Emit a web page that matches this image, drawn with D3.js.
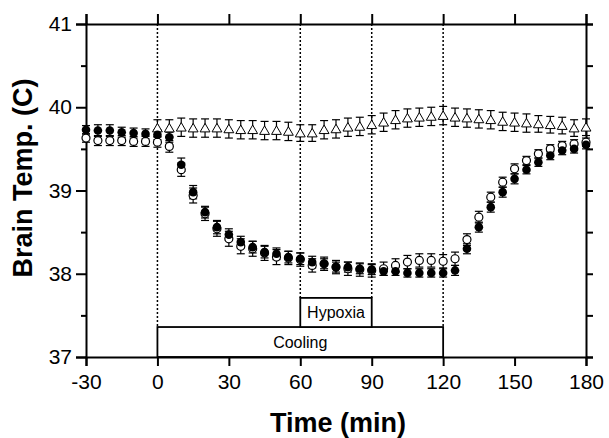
<!DOCTYPE html>
<html>
<head>
<meta charset="utf-8">
<script src="https://cdn.jsdelivr.net/npm/d3@7"></script>
<style>
  body { margin: 0; background: #fff; }
  text { font-family: "Liberation Sans", Arial, sans-serif; fill: #000; }
</style>
</head>
<body>
<div class="chart"></div>
<script>
// time points (min)
var times = [-30, -25, -20, -15, -10, -5, 0, 5, 10, 15, 20, 25, 30, 35, 40, 45, 50, 55, 60, 65, 70,
  75, 80, 85, 90, 95, 100, 105, 110, 115, 120, 125, 130, 135, 140, 145, 150, 155, 160, 165, 170, 175, 180];
var triTimes = [0, 5, 10, 15, 20, 25, 30, 35, 40, 45, 50, 55, 60, 65, 70, 75, 80, 85, 90,
  95, 100, 105, 110, 115, 120, 125, 130, 135, 140, 145, 150, 155, 160, 165, 170, 175, 180];

// filled circles
var filledMean = [39.73, 39.72, 39.72, 39.70, 39.69, 39.68, 39.67, 39.64, 39.31, 38.98, 38.74, 38.56, 38.47,
  38.38, 38.32, 38.26, 38.24, 38.20, 38.18, 38.14, 38.12, 38.08, 38.08, 38.06, 38.05, 38.03, 38.03, 38.01,
  38.01, 38.01, 38.01, 38.04, 38.30, 38.56, 38.80, 38.98, 39.14, 39.25, 39.34, 39.42, 39.48, 39.50, 39.55];
var filledSE = [0.05, 0.07, 0.07, 0.06, 0.06, 0.06, 0.06, 0.06, 0.08, 0.08, 0.07, 0.08, 0.07, 0.07, 0.07,
  0.07, 0.07, 0.07, 0.07, 0.07, 0.06, 0.06, 0.06, 0.06, 0.06, 0.05, 0.05, 0.05, 0.05, 0.05, 0.05, 0.06,
  0.06, 0.06, 0.06, 0.06, 0.06, 0.05, 0.05, 0.05, 0.05, 0.05, 0.05];

// open circles
var openMean = [39.63, 39.60, 39.60, 39.60, 39.59, 39.59, 39.58, 39.53, 39.25, 38.94, 38.72, 38.54, 38.42,
  38.33, 38.30, 38.25, 38.20, 38.19, 38.17, 38.10, 38.12, 38.08, 38.06, 38.05, 38.04, 38.06, 38.10, 38.14,
  38.16, 38.16, 38.15, 38.18, 38.41, 38.68, 38.92, 39.10, 39.26, 39.36, 39.44, 39.50, 39.54, 39.56, 39.58];
var openSE = [0.05, 0.06, 0.06, 0.06, 0.06, 0.06, 0.06, 0.07, 0.08, 0.09, 0.08, 0.09, 0.09, 0.09, 0.09,
  0.09, 0.09, 0.08, 0.08, 0.08, 0.08, 0.08, 0.08, 0.08, 0.08, 0.08, 0.08, 0.08, 0.08, 0.08, 0.08, 0.08,
  0.07, 0.07, 0.06, 0.06, 0.06, 0.05, 0.05, 0.05, 0.05, 0.05, 0.05];

// open triangles
var triMean = [39.75, 39.75, 39.76, 39.75, 39.75, 39.75, 39.74, 39.73, 39.73, 39.72, 39.72, 39.71, 39.69,
  39.69, 39.73, 39.74, 39.76, 39.77, 39.79, 39.82, 39.85, 39.87, 39.88, 39.89, 39.90, 39.88, 39.87, 39.86,
  39.85, 39.83, 39.82, 39.81, 39.80, 39.79, 39.78, 39.75, 39.76];
var triSE = [0.10, 0.10, 0.11, 0.11, 0.11, 0.11, 0.11, 0.11, 0.11, 0.11, 0.11, 0.11, 0.10, 0.10, 0.11,
  0.11, 0.11, 0.11, 0.11, 0.11, 0.11, 0.11, 0.11, 0.11, 0.11, 0.11, 0.11, 0.11, 0.11, 0.11, 0.11, 0.11,
  0.10, 0.10, 0.10, 0.10, 0.10];

var xTicks = [-30, 0, 30, 60, 90, 120, 150, 180];
var yTicks = [37, 38, 39, 40, 41];
var yMinor = [37.5, 38.5, 39.5, 40.5];
var guideLines = [0, 60, 90, 120];

// boxes: [start, end, top, label]
var cooling = { start: 0, end: 120, top: 37.36, label: "Cooling" };
var hypoxia = { start: 60, end: 90, top: 37.71, label: "Hypoxia" };

var svgWidth = 609;
var svgHeight = 438;
var margin = { top: 24, right: 23, bottom: 81, left: 86 };
var width = svgWidth - margin.left - margin.right;
var height = svgHeight - margin.top - margin.bottom;

var svg = d3.select(".chart")
  .append("svg")
  .attr("width", svgWidth)
  .attr("height", svgHeight);

var chartGroup = svg.append("g")
  .attr("transform", `translate(${margin.left}, ${margin.top})`);

var x = d3.scaleLinear().domain([-30, 180]).range([0, width]);
var y = d3.scaleLinear().domain([37, 41]).range([height, 0]);

// dotted guides
chartGroup.selectAll(".guide")
  .data(guideLines)
  .enter()
  .append("line")
  .attr("x1", d => x(d))
  .attr("x2", d => x(d))
  .attr("y1", 0)
  .attr("y2", d => (d == 60 || d == 90) ? y(hypoxia.top) : y(cooling.top))
  .attr("stroke", "#000")
  .attr("stroke-width", 1.5)
  .attr("stroke-dasharray", "2,2");

// boxes
[cooling, hypoxia].forEach(function(b) {
  var bottom = b === hypoxia ? y(cooling.top) : y(37);
  chartGroup.append("rect")
    .attr("x", x(b.start))
    .attr("y", y(b.top))
    .attr("width", x(b.end) - x(b.start))
    .attr("height", bottom - y(b.top))
    .attr("fill", "#fff")
    .attr("stroke", "#000")
    .attr("stroke-width", 1.8);
  chartGroup.append("text")
    .attr("x", (x(b.start) + x(b.end)) / 2)
    .attr("y", (y(b.top) + bottom) / 2 + 6)
    .attr("text-anchor", "middle")
    .style("font-size", "16px")
    .text(b.label);
});

// axes (plain hyphen for negatives, as in the original)
var intFmt = d => String(d);
var bottomAxis = d3.axisBottom(x).tickValues(xTicks).tickSize(9).tickPadding(8).tickFormat(intFmt);
var leftAxis = d3.axisLeft(y).tickValues(yTicks).tickSize(10).tickPadding(4).tickFormat(intFmt);
var topAxis = d3.axisTop(x).tickValues(xTicks).tickSize(10).tickFormat("");
var rightAxis = d3.axisRight(y).tickValues(yTicks.concat(yMinor)).tickSize(7).tickFormat("");

function styleAxis(g) {
  g.select(".domain").attr("stroke-width", 2).attr("stroke", "#000");
  g.selectAll(".tick line").attr("stroke-width", 2).attr("stroke", "#000");
  g.selectAll(".tick text").style("font-size", "21px").style("font-family", "'Liberation Sans', Arial, sans-serif");
}

chartGroup.append("g")
  .attr("transform", `translate(0, ${height})`)
  .call(bottomAxis)
  .call(styleAxis);

chartGroup.append("g")
  .call(leftAxis)
  .call(styleAxis);

chartGroup.append("g")
  .call(d3.axisLeft(y).tickValues(yMinor).tickSize(5).tickFormat(""))
  .call(styleAxis)
  .select(".domain").remove();

chartGroup.append("g")
  .call(topAxis)
  .call(styleAxis);

chartGroup.append("g")
  .attr("transform", `translate(${width}, 0)`)
  .call(rightAxis)
  .call(styleAxis);

// error bars
function errorBars(ts, means, ses, cls) {
  var g = chartGroup.append("g").attr("class", cls);
  var data = ts.map((t, i) => ({ t: t, m: means[i], s: ses[i] }));
  g.selectAll("line.v").data(data).enter().append("line")
    .attr("x1", d => x(d.t)).attr("x2", d => x(d.t))
    .attr("y1", d => y(d.m + d.s)).attr("y2", d => y(d.m - d.s))
    .attr("stroke", "#000").attr("stroke-width", 1.2);
  [1, -1].forEach(function(sign) {
    g.selectAll("line.c" + sign).data(data).enter().append("line")
      .attr("x1", d => x(d.t) - 4).attr("x2", d => x(d.t) + 4)
      .attr("y1", d => y(d.m + sign * d.s)).attr("y2", d => y(d.m + sign * d.s))
      .attr("stroke", "#000").attr("stroke-width", 1.2);
  });
  return data;
}

var triData = errorBars(triTimes, triMean, triSE, "tri");
var openData = errorBars(times, openMean, openSE, "open");
var filledData = errorBars(times, filledMean, filledSE, "filled");

chartGroup.selectAll(".triangle")
  .data(triData)
  .enter()
  .append("path")
  .attr("d", d3.symbol().type(d3.symbolTriangle).size(42))
  .attr("transform", d => `translate(${x(d.t)}, ${y(d.m) + 1})`)
  .attr("fill", "#fff")
  .attr("stroke", "#000")
  .attr("stroke-width", 1);

chartGroup.selectAll(".openCircle")
  .data(openData)
  .enter()
  .append("circle")
  .attr("cx", d => x(d.t))
  .attr("cy", d => y(d.m))
  .attr("r", 4)
  .attr("fill", "#fff")
  .attr("stroke", "#000")
  .attr("stroke-width", 1.2);

chartGroup.selectAll(".filledCircle")
  .data(filledData)
  .enter()
  .append("circle")
  .attr("cx", d => x(d.t))
  .attr("cy", d => y(d.m))
  .attr("r", 4.3)
  .attr("fill", "#000");

// axis labels
chartGroup.append("text")
  .attr("transform", `translate(${32 - margin.left}, ${178 - margin.top}) rotate(-90)`)
  .attr("text-anchor", "middle")
  .style("font-size", "27px")
  .style("font-weight", "bold")
  .text("Brain Temp. (C)");

chartGroup.append("text")
  .attr("x", 338 - margin.left)
  .attr("y", 432 - margin.top)
  .attr("text-anchor", "middle")
  .style("font-size", "27px")
  .style("font-weight", "bold")
  .text("Time (min)");
</script>
</body>
</html>
